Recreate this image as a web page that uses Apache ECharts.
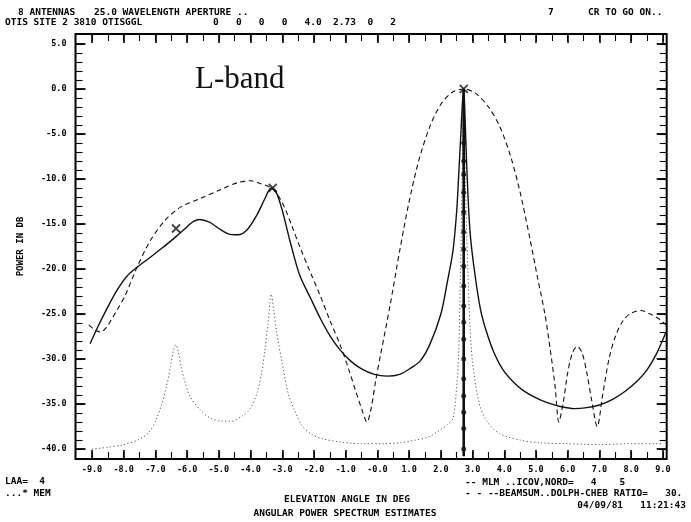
<!DOCTYPE html>
<html><head><meta charset="utf-8">
<script src="https://cdn.jsdelivr.net/npm/echarts@6/dist/echarts.min.js"></script>
<style>html,body{margin:0;padding:0;background:#fff}#c{width:691px;height:522px}</style>
</head><body><div id="c"></div>
<script>
// ---- axis labels ----
const xLabelValues = [-9,-8,-7,-6,-5,-4,-3,-2,-1,0,1,2,3,4,5,6,7,8,9];
const xTickLabels = ['-9.0','-8.0','-7.0','-6.0','-5.0','-4.0','-3.0','-2.0','-1.0','-0.0','1.0','2.0','3.0','4.0','5.0','6.0','7.0','8.0','9.0'];
const yLabelValues = [5,0,-5,-10,-15,-20,-25,-30,-35,-40];
const yTickLabels = ['5.0','0.0','-5.0','-10.0','-15.0','-20.0','-25.0','-30.0','-35.0','-40.0'];

// ---- series: MLM (solid) ----
const mlm = [[-9.06,-28.3],[-8.8,-26.3],[-8.5,-24.2],[-8.2,-22.3],[-7.9,-20.8],[-7.58,-19.8],[-7.2,-18.8],[-6.8,-17.7],[-6.35,-16.4],[-6.0,-15.3],[-5.8,-14.7],[-5.6,-14.5],[-5.3,-14.8],[-5.0,-15.5],[-4.7,-16.1],[-4.4,-16.2],[-4.1,-15.6],[-3.8,-14.0],[-3.55,-12.2],[-3.35,-11.0],[-3.2,-11.4],[-3.0,-13.5],[-2.75,-17.0],[-2.45,-20.7],[-2.1,-23.3],[-1.8,-25.5],[-1.5,-27.4],[-1.2,-28.9],[-0.85,-30.2],[-0.5,-31.1],[-0.1,-31.7],[0.3,-31.9],[0.7,-31.7],[1.05,-31.0],[1.35,-30.2],[1.65,-28.4],[2.0,-25.0],[2.2,-21.5],[2.38,-18.0],[2.5,-13.5],[2.57,-9.0],[2.63,-5.0],[2.68,-1.5],[2.72,0.0],[2.76,-3.0],[2.82,-9.0],[2.92,-15.9],[3.07,-20.5],[3.25,-24.5],[3.44,-27.0],[3.7,-29.5],[3.96,-31.2],[4.3,-32.6],[4.6,-33.5],[5.0,-34.3],[5.4,-34.9],[5.8,-35.3],[6.2,-35.5],[6.6,-35.4],[7.0,-35.1],[7.4,-34.5],[7.8,-33.6],[8.2,-32.4],[8.5,-31.2],[8.8,-29.4],[9.1,-27.0]];

// ---- series: BEAMSUM (dashed) ----
const beamsum = [[-9.1,-26.2],[-8.9,-26.8],[-8.72,-27.0],[-8.55,-26.5],[-8.4,-25.7],[-8.2,-24.5],[-7.96,-23.0],[-7.58,-19.8],[-7.17,-16.9],[-6.7,-14.6],[-6.2,-13.1],[-5.6,-12.2],[-4.96,-11.2],[-4.4,-10.4],[-4.0,-10.2],[-3.7,-10.5],[-3.35,-11.0],[-3.1,-12.0],[-2.9,-13.4],[-2.7,-15.2],[-2.44,-17.6],[-2.1,-20.5],[-1.8,-23.0],[-1.5,-25.7],[-1.18,-28.4],[-0.9,-31.2],[-0.7,-33.4],[-0.5,-35.5],[-0.33,-37.0],[-0.2,-35.5],[-0.05,-32.3],[0.1,-29.5],[0.4,-24.0],[0.7,-18.0],[1.0,-12.5],[1.3,-8.0],[1.65,-4.2],[2.0,-1.7],[2.35,-0.4],[2.72,0.0],[3.1,-0.5],[3.5,-2.0],[3.86,-4.2],[4.2,-7.5],[4.5,-11.5],[4.8,-16.5],[5.05,-21.0],[5.28,-25.0],[5.45,-29.0],[5.6,-33.0],[5.72,-37.0],[5.85,-35.0],[6.0,-31.5],[6.15,-29.3],[6.3,-28.6],[6.45,-29.3],[6.6,-31.5],[6.75,-34.5],[6.93,-37.5],[7.1,-34.0],[7.3,-30.0],[7.5,-27.5],[7.75,-25.7],[8.0,-24.9],[8.3,-24.6],[8.6,-25.0],[8.9,-25.6],[9.1,-26.2]];

// ---- series: MEM (dotted) ----
const mem = [[-9.0,-40.0],[-8.5,-39.8],[-8.0,-39.5],[-7.5,-38.9],[-7.2,-38.1],[-7.0,-36.9],[-6.8,-35.0],[-6.65,-33.0],[-6.52,-30.8],[-6.43,-29.0],[-6.36,-28.4],[-6.28,-29.2],[-6.18,-31.0],[-6.05,-32.8],[-5.9,-34.2],[-5.6,-35.6],[-5.3,-36.5],[-4.9,-36.9],[-4.6,-36.9],[-4.3,-36.4],[-4.0,-35.4],[-3.8,-33.8],[-3.65,-31.5],[-3.55,-29.0],[-3.45,-26.0],[-3.35,-22.8],[-3.27,-24.5],[-3.18,-27.0],[-3.0,-30.5],[-2.8,-34.0],[-2.6,-35.8],[-2.4,-37.3],[-2.1,-38.3],[-1.8,-38.8],[-1.2,-39.2],[-0.5,-39.4],[0.2,-39.4],[0.7,-39.3],[1.2,-39.0],[1.65,-38.6],[2.0,-37.8],[2.2,-37.3],[2.38,-36.6],[2.5,-33.0],[2.56,-29.5],[2.62,-20.0],[2.67,-10.0],[2.72,0.0],[2.77,-10.0],[2.85,-20.0],[2.92,-26.5],[3.0,-30.4],[3.2,-34.8],[3.45,-36.9],[3.86,-38.3],[4.5,-39.0],[5.12,-39.3],[6.0,-39.4],[7.0,-39.5],[8.0,-39.4],[9.0,-39.4]];

// ---- MEM peak star line ----
const memStarX = 2.72;
const memStarLine = [0.0, -40.8];
const memStarValues = [-6.0,-8.0,-9.5,-11.5,-13.7,-15.9,-17.8,-19.7,-21.9,-24.1,-25.9,-27.8,-30.0,-32.2,-34.1,-35.9,-37.7,-40.0];

// ---- estimated source positions (X marks) ----
const peakMarks = [[-6.35,-15.5],[-3.3,-11.0],[2.72,0.0]];

const FONT = 'bold 9.5px "DejaVu Sans Mono", monospace';
const halfTicks = []; for (let v = -9; v <= 9.001; v += 0.5) halfTicks.push(+v.toFixed(1));
const dbTicks = []; for (let v = 5; v >= -40; v -= 1) dbTicks.push(v);

const xBase = {type:'value', min:-9.52, max:9.12, splitLine:{show:false}, axisLine:{show:false, onZero:false}};
const yBase = {type:'value', min:-41.1, max:6.1, splitLine:{show:false}, axisLine:{show:false, onZero:false}};
const tick = (vals, len, w) => ({show:true, inside:true, length:len, customValues:vals, lineStyle:{color:'#000', width:w}});

const chart = echarts.init(document.getElementById('c'), null, {renderer:'canvas'});
chart.setOption({
  animation:false,
  backgroundColor:'#fff',
  grid:{left:75.5, top:34, right:24.3, bottom:63, show:true, borderColor:'#000', borderWidth:2, backgroundColor:'transparent'},
  xAxis:[
    Object.assign({}, xBase, {position:'bottom', axisTick:tick(xLabelValues, 9, 1.6),
      axisLabel:{show:true, customValues:xLabelValues, margin:6, color:'#000', fontFamily:'DejaVu Sans Mono', fontWeight:'bold', fontSize:8.5,
        formatter:(v)=>{const i=xLabelValues.indexOf(Math.round(v)); return i>=0?xTickLabels[i]:'';}}}),
    Object.assign({}, xBase, {position:'bottom', axisTick:tick(halfTicks, 7, 1.1), axisLabel:{show:false}}),
    Object.assign({}, xBase, {position:'top', axisTick:tick(xLabelValues, 9, 1.6), axisLabel:{show:false}}),
    Object.assign({}, xBase, {position:'top', axisTick:tick(halfTicks, 7, 1.1), axisLabel:{show:false}})
  ],
  yAxis:[
    Object.assign({}, yBase, {position:'left', axisTick:tick(yLabelValues, 10, 1.8),
      name:'POWER IN DB', nameLocation:'middle', nameRotate:90, nameGap:50,
      nameTextStyle:{color:'#000', fontFamily:'DejaVu Sans Mono', fontWeight:'bold', fontSize:9},
      axisLabel:{show:true, customValues:yLabelValues, margin:9, color:'#000', fontFamily:'DejaVu Sans Mono', fontWeight:'bold', fontSize:8.5,
        formatter:(v)=>{const i=yLabelValues.indexOf(Math.round(v)); return i>=0?yTickLabels[i]:'';}}}),
    Object.assign({}, yBase, {position:'left', axisTick:tick(dbTicks, 7, 1.1), axisLabel:{show:false}}),
    Object.assign({}, yBase, {position:'right', axisTick:tick(yLabelValues, 10, 1.8), axisLabel:{show:false}}),
    Object.assign({}, yBase, {position:'right', axisTick:tick(dbTicks, 7, 1.1), axisLabel:{show:false}})
  ],
  series:[
    {name:'MEM', type:'line', data:mem, smooth:0.3, symbol:'none', lineStyle:{color:'#555', width:1, type:[1.2,2.4]}, z:2},
    {name:'BEAMSUM', type:'line', data:beamsum, smooth:0.3, symbol:'none', lineStyle:{color:'#111', width:1.1, type:[5,3.5]}, z:3},
    {name:'MLM', type:'line', data:mlm, smooth:0.3, symbol:'none', lineStyle:{color:'#111', width:1.4}, z:4},
    {name:'MEM line', type:'line', data:memStarLine.map(v=>[memStarX, v]), symbol:'none', lineStyle:{color:'#111', width:2.6}, z:5},
    {name:'MEM stars', type:'scatter', data:memStarValues.map(v=>[memStarX, v]), symbol:'circle', symbolSize:5, itemStyle:{color:'#111'}, z:6},
    {name:'peaks', type:'scatter', data:peakMarks, symbol:'path://M0,0L10,10M10,0L0,10', symbolSize:8,
      itemStyle:{color:'transparent', borderColor:'#111', borderWidth:1.8}, z:7}
  ],
  graphic:[
    {type:'text', style:{text:'8 ANTENNAS', x:18, y:13, font:FONT, fill:'#000', verticalAlign:'middle'}},
    {type:'text', style:{text:'25.0 WAVELENGTH APERTURE ..', x:94, y:13, font:FONT, fill:'#000', verticalAlign:'middle'}},
    {type:'text', style:{text:'7', x:548, y:13, font:FONT, fill:'#000', verticalAlign:'middle'}},
    {type:'text', style:{text:'CR TO GO ON..', x:588, y:13, font:FONT, fill:'#000', verticalAlign:'middle'}},
    {type:'text', style:{text:'OTIS SITE 2 3810 OTISGGL', x:5, y:23, font:FONT, fill:'#000', verticalAlign:'middle'}},
    {type:'text', style:{text:'0   0   0   0   4.0  2.73  0   2', x:213, y:23, font:FONT, fill:'#000', verticalAlign:'middle'}},
    {type:'text', style:{text:'L-band', x:195, y:80, font:'31px "Liberation Serif", serif', fill:'#111', verticalAlign:'middle'}},
    {type:'text', style:{text:'LAA=  4', x:5, y:482, font:FONT, fill:'#000', verticalAlign:'middle'}},
    {type:'text', style:{text:'...* MEM', x:5, y:494, font:FONT, fill:'#000', verticalAlign:'middle'}},
    {type:'text', style:{text:'-- MLM ..ICOV,NORD=   4    5', x:465, y:483, font:FONT, fill:'#000', verticalAlign:'middle'}},
    {type:'text', style:{text:'- - --BEAMSUM..DOLPH-CHEB RATIO=   30.', x:465, y:494, font:FONT, fill:'#000', verticalAlign:'middle'}},
    {type:'text', style:{text:'ELEVATION ANGLE IN DEG', x:347, y:500, font:FONT, fill:'#000', align:'center', textAlign:'center', verticalAlign:'middle'}},
    {type:'text', style:{text:'04/09/81   11:21:43', x:686, y:506, font:FONT, fill:'#000', align:'right', textAlign:'right', verticalAlign:'middle'}},
    {type:'text', style:{text:'ANGULAR POWER SPECTRUM ESTIMATES', x:345, y:514, font:FONT, fill:'#000', align:'center', textAlign:'center', verticalAlign:'middle'}}
  ]
});
</script>
</body></html>
